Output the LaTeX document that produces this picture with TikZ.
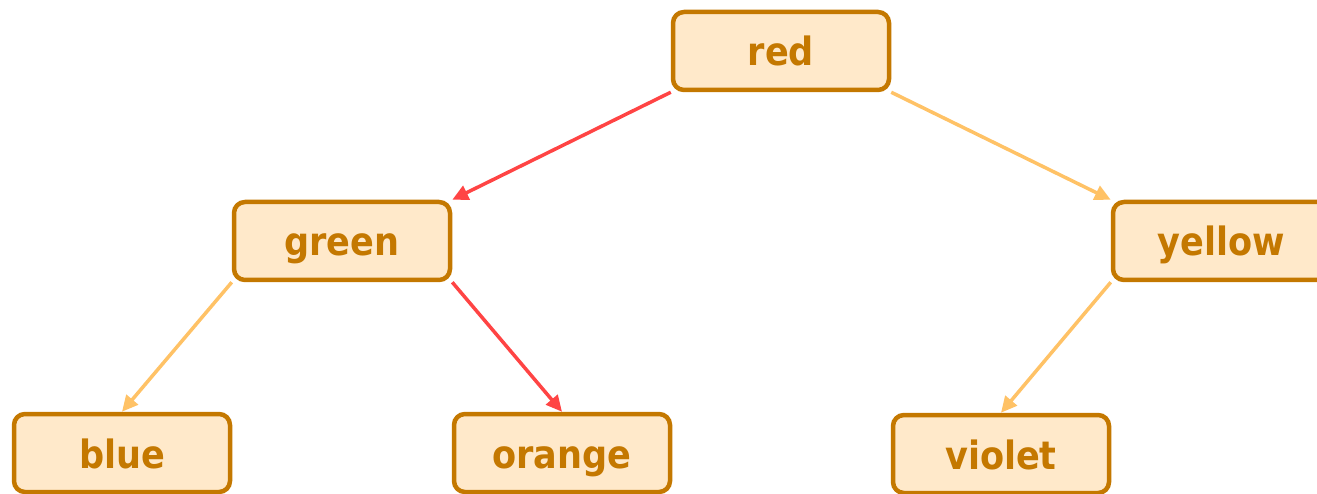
\documentclass[tikz,border=0pt]{standalone}
\usepackage{fontspec}
\setmainfont{DejaVu Sans Condensed}
\usetikzlibrary{arrows.meta}
\definecolor{boxfill}{HTML}{FFE9CA}
\definecolor{boxdraw}{HTML}{C47800}
\definecolor{hotedge}{HTML}{FF4444}
\definecolor{coldedge}{HTML}{FFC266}
\tikzset{
  tnode/.style={draw=boxdraw, fill=boxfill, line width=4.5pt, rounded corners=11pt,
    minimum width=216pt, minimum height=78pt, text=boxdraw,
    text height=30pt, text depth=0pt,
    font=\fontsize{39}{43}\selectfont\bfseries},
  hot/.style={draw=hotedge, line width=3.5pt, -{Triangle[length=16pt,width=15pt]}},
  cold/.style={draw=coldedge, line width=3.5pt, -{Triangle[length=16pt,width=15pt]}}
}
\begin{document}
\begin{tikzpicture}[x=1pt,y=1pt]
\useasboundingbox (0,0) rectangle (1317,493);
\clip (0,0) rectangle (1317,493);
\node[tnode] (red) at (781,442) {red};
\node[tnode] (green) at (342,252) {green};
\node[tnode] (yellow) at (1221,252) {yellow};
\node[tnode] (blue) at (122,40) {blue};
\node[tnode] (orange) at (562,40) {orange};
\node[tnode] (violet) at (1001,39) {violet};
\draw[hot] (red.south west) -- (green.north east);
\draw[cold] (red.south east) -- (yellow.north west);
\draw[cold] (green.south west) -- (blue.north);
\draw[hot] (green.south east) -- (orange.north);
\draw[cold] (yellow.south west) -- (violet.north);
\end{tikzpicture}
\end{document}
